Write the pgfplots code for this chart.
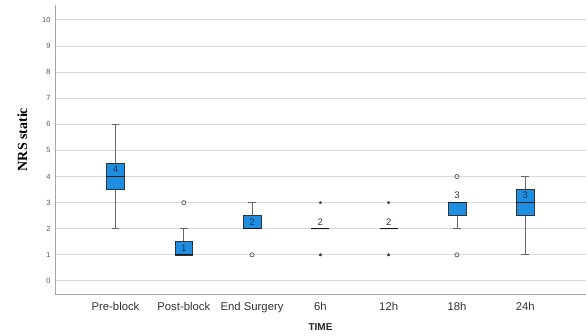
\documentclass[border=0pt]{standalone}
\usepackage{fontspec}
\setmainfont{Liberation Sans}
\newfontfamily\serifbold{Liberation Serif}
\usepackage{pgfplots}
\usepgfplotslibrary{statistics}
\pgfplotsset{compat=1.18}
\definecolor{boxblue}{RGB}{30,142,226}
\definecolor{gridgray}{RGB}{217,217,217}
\definecolor{axisgray}{RGB}{165,165,165}
\definecolor{labelnavy}{RGB}{40,48,70}
\begin{document}
\begin{tikzpicture}[x=1pt,y=1pt]
\useasboundingbox (-55,-42) rectangle (533,294);
\begin{axis}[
  at={(0,0)}, anchor=south west,
  scale only axis, width=531pt, height=289pt,
  xmin=-0.886, xmax=6.89,
  ymin=-0.5, ymax=10.57,
  axis x line*=bottom, axis y line*=left,
  axis line style={draw=axisgray, line width=0.9pt, -},
  xtick={0,1,2,3,4,5,6},
  xticklabels={Pre-block,Post-block,End Surgery,6h,12h,18h,24h},
  ytick={0,1,...,10},
  major tick length=0pt,
  ymajorgrids, major grid style={draw=gridgray, line width=0.9pt},
  /pgf/number format/assume math mode=true,
  yticklabel style={font=\fontsize{7.5}{8}\selectfont, text=black!65, xshift=-1pt},
  xticklabel style={font=\fontsize{11.3}{13}\selectfont, text=black!80, yshift=-5pt},
  xlabel={\bfseries TIME},
  xlabel style={font=\fontsize{10}{12}\selectfont, text=black!85, yshift=-4pt},
  ylabel={\serifbold\bfseries NRS static},
  ylabel style={font=\fontsize{14}{16}\selectfont, yshift=8pt, xshift=10pt},
  boxplot/draw direction=y,
  boxplot/box extend=0.26,
  boxplot/whisker extend=0.11,
  boxplot/every box/.style={draw=black!80, fill=boxblue, line width=0.6pt},
  boxplot/every whisker/.style={draw=black!60, line width=0.7pt},
  boxplot/every median/.style={draw=black!90, line width=1.1pt},
  clip=false,
]
% Pre-block
\addplot[boxplot prepared={draw position=0, lower whisker=2, lower quartile=3.5,
  median=4, upper quartile=4.5, upper whisker=6}] coordinates {};
% Post-block
\addplot[boxplot prepared={draw position=1, lower whisker=1, lower quartile=1,
  median=1, upper quartile=1.5, upper whisker=2}] coordinates {};
% End Surgery
\addplot[boxplot prepared={draw position=2, lower whisker=2, lower quartile=2,
  median=2, upper quartile=2.5, upper whisker=3}] coordinates {};
% 6h
\addplot[boxplot prepared={draw position=3, lower whisker=2, lower quartile=2,
  median=2, upper quartile=2, upper whisker=2}] coordinates {};
% 12h
\addplot[boxplot prepared={draw position=4, lower whisker=2, lower quartile=2,
  median=2, upper quartile=2, upper whisker=2}] coordinates {};
% 18h
\addplot[boxplot prepared={draw position=5, lower whisker=2, lower quartile=2.5,
  median=3, upper quartile=3, upper whisker=3}] coordinates {};
% 24h
\addplot[boxplot prepared={draw position=6, lower whisker=1, lower quartile=2.5,
  median=3, upper quartile=3.5, upper whisker=4}] coordinates {};
% outliers (circles) and extreme values (stars)
\addplot[only marks, mark=o, mark size=2.1pt, draw=black!65, line width=0.7pt]
  coordinates {(1,3) (2,1) (5,4) (5,1)};
\addplot[only marks, mark=asterisk, mark size=1.6pt, draw=black!80, line width=0.6pt]
  coordinates {(3,3) (3,1) (4,3) (4,1)};
% median values
\addplot[draw=none, mark=none, nodes near coords,
  point meta=y, nodes near coords={\pgfmathprintnumber[fixed,precision=0]{\pgfplotspointmeta}},
  every node near coord/.append style={anchor=center, yshift=7pt,
    font=\fontsize{9.5}{10}\selectfont, text=labelnavy}]
  coordinates {(0,4) (1,1) (2,2) (3,2) (4,2) (5,3) (6,3)};
\end{axis}
\end{tikzpicture}
\end{document}
